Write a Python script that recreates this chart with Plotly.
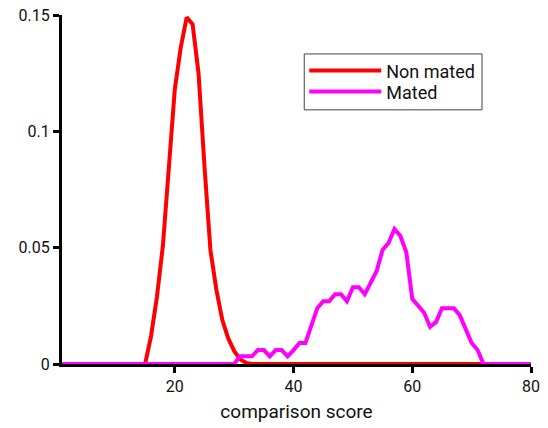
import plotly.graph_objects as go

non_mated_x = [1, 15, 16, 17, 18, 19, 20, 21, 22, 23, 24, 25, 26, 27, 28, 29, 30, 31, 32, 33, 80]
non_mated_y = [0, 0, 0.012, 0.029, 0.051, 0.085, 0.118, 0.136, 0.149, 0.146, 0.125, 0.085, 0.049,
               0.032, 0.019, 0.011, 0.0056, 0.002, 0.0005, 0, 0]

mated_x = [1, 30, 31, 32, 33, 34, 35, 36, 37, 38, 39, 40, 41, 42, 43, 44, 45, 46, 47, 48, 49, 50,
           51, 52, 53, 54, 55, 56, 57, 58, 59, 60, 61, 62, 63, 64, 65, 66, 67, 68, 69, 70, 71, 72, 80]
mated_y = [0, 0, 0.0033, 0.0033, 0.0033, 0.006, 0.006, 0.0033, 0.006, 0.006, 0.0033, 0.006, 0.009,
           0.009, 0.016, 0.024, 0.027, 0.027, 0.030, 0.030, 0.027, 0.033, 0.033, 0.030, 0.035, 0.040,
           0.049, 0.052, 0.058, 0.055, 0.048, 0.028, 0.025, 0.022, 0.016, 0.018, 0.024, 0.024, 0.024,
           0.021, 0.015, 0.009, 0.006, 0, 0]

y_ticks = [0, 0.05, 0.1, 0.15]
y_tick_labels = ["0", "0.05", "0.1", "0.15"]
x_ticks = [20, 40, 60, 80]

fig = go.Figure()
fig.add_trace(go.Scatter(x=non_mated_x, y=non_mated_y, mode="lines", name="Non mated",
                         line=dict(color="#ff0000", width=4), legend="legend"))
fig.add_trace(go.Scatter(x=mated_x, y=mated_y, mode="lines", name="Mated",
                         line=dict(color="#ff00ff", width=4), legend="legend2"))

font = dict(family="Roboto, sans-serif", size=16, color="#111111")
legend_font = dict(family="Roboto, sans-serif", size=18, color="#111111")
legend_common = dict(x=0.5165, xanchor="left", yanchor="middle", borderwidth=0,
                     bgcolor="rgba(0,0,0,0)", font=legend_font, itemwidth=72)

fig.update_layout(
    width=540, height=420,
    margin=dict(l=53.5, r=17, t=7, b=63.5, autoexpand=False),
    paper_bgcolor="white", plot_bgcolor="white",
    font=font,
    showlegend=True,
    legend=dict(y=0.8398, **legend_common),
    legend2=dict(y=0.7797, **legend_common),
    shapes=[dict(type="rect", xref="paper", yref="paper", x0=0.5165, x1=0.8956,
                 y0=0.7282, y1=0.8884, line=dict(color="#444444", width=1),
                 fillcolor="white", layer="above")],
)
fig.update_xaxes(range=[1, 80], tickvals=x_ticks, ticks="outside", ticklen=6, tickwidth=3,
                 tickcolor="black", showline=True, linecolor="black", linewidth=3,
                 showgrid=False, zeroline=False, layer="below traces", automargin=False,
                 ticklabeloverflow="allow",
                 title=dict(text="comparison score", standoff=10))
fig.update_yaxes(range=[0, 0.15], tickvals=y_ticks, ticktext=y_tick_labels, ticks="outside",
                 ticklen=6, tickwidth=3, tickcolor="black", showline=True, linecolor="black",
                 linewidth=3, showgrid=False, zeroline=False, layer="below traces",
                 automargin=False, ticklabeloverflow="allow")

fig.write_html("out.html")
